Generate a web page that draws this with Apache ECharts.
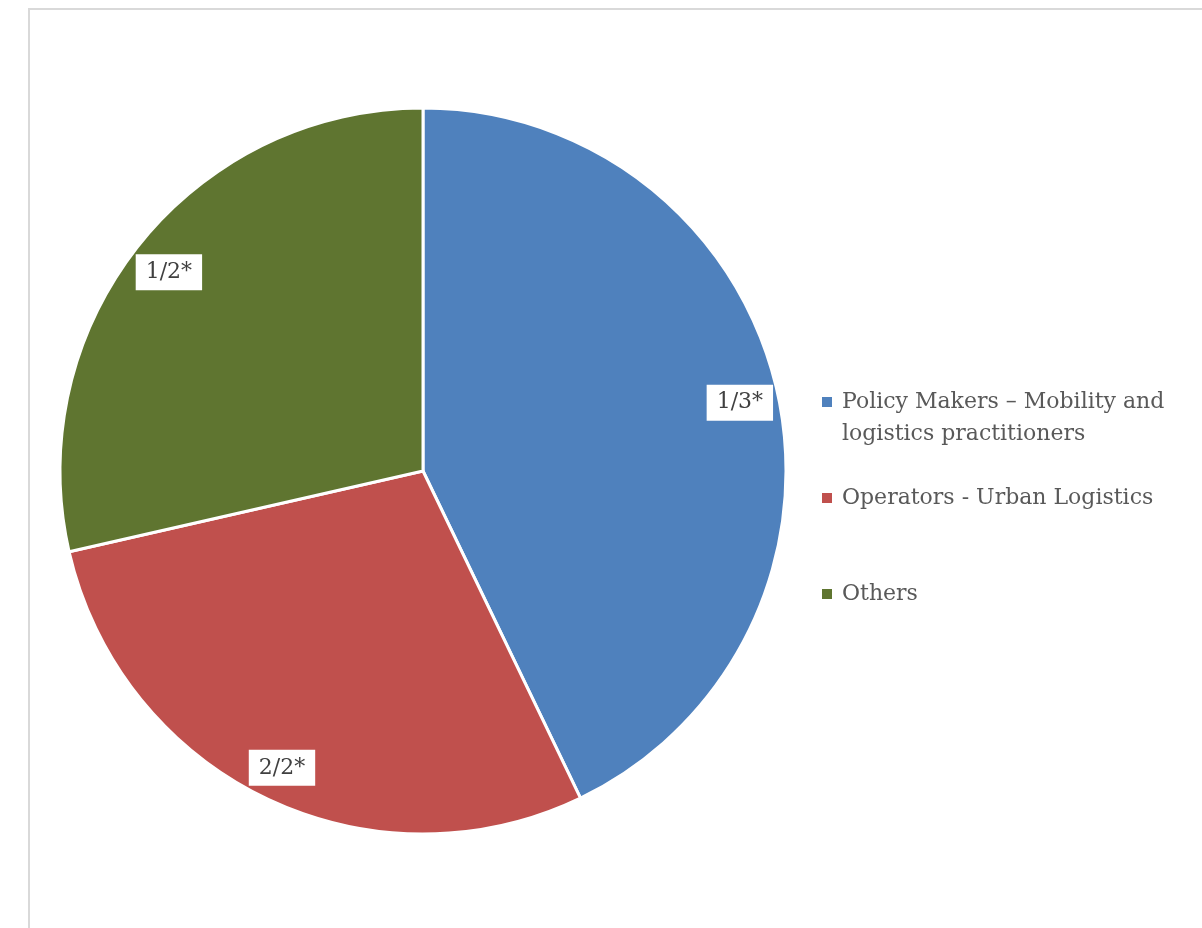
<!DOCTYPE html>
<html>
<head>
<meta charset="utf-8">
<script src="https://cdn.jsdelivr.net/npm/echarts@6/dist/echarts.min.js"></script>
<style>
  html, body { margin: 0; padding: 0; background: #fff; }
  #chart { width: 1202px; height: 928px; }
</style>
</head>
<body>
<div id="chart"></div>
<script>
// categories / values / slice labels
const categories = [
  'Policy Makers – Mobility and\nlogistics practitioners',
  'Operators - Urban Logistics',
  'Others'
]
const values = [3, 2, 2]
const sliceLabels = ['1/3*', '2/2*', '1/2*']
const colors = ['#4f81bd', '#c0504d', '#5f7530']

const FONT = 'DejaVu Serif'

let chart = echarts.init(document.getElementById('chart'))

const pieData = categories.map((name, i) => ({
  name: name,
  value: values[i],
  itemStyle: { color: colors[i] }
}))

const labelData = categories.map((name, i) => ({
  name: name,
  value: values[i],
  label: { formatter: sliceLabels[i] }
}))

// one legend per entry so the vertical spacing matches the picture
// (first one gets a blank leading line so the marker sits on its first line)
const legendTops = [354, 482, 578]
const legends = categories.map((name, i) => ({
  data: [name],
  orient: 'vertical',
  left: 822,
  top: legendTops[i],
  padding: 0,
  icon: 'rect',
  itemWidth: 10,
  itemHeight: 10,
  itemStyle: { borderWidth: 0 },
  selectedMode: false,
  formatter: n => (i === 0 ? '\n' + n : n),
  textStyle: {
    fontFamily: FONT,
    fontSize: 22,
    lineHeight: 32,
    color: '#595959',
    padding: [0, 0, 0, 5]
  }
}))

chart.setOption({
  animation: false,
  color: colors,
  legend: legends,
  graphic: [
    {
      type: 'rect',
      silent: true,
      shape: { x: 29, y: 9, width: 1400, height: 1200 },
      style: { fill: 'none', stroke: '#d9d9d9', lineWidth: 2 }
    }
  ],
  series: [
    {
      name: 'share',
      type: 'pie',
      center: [423, 471],
      radius: [0, 363],
      startAngle: 90,
      clockwise: true,
      silent: true,
      label: { show: false },
      labelLine: { show: false },
      itemStyle: { borderColor: '#fff', borderWidth: 3 },
      data: pieData
    },
    {
      // transparent ring only used to place the data labels near the rim
      name: 'labels',
      type: 'pie',
      center: [423, 475],
      radius: [300, 344],
      startAngle: 90,
      clockwise: true,
      silent: true,
      legendHoverLink: false,
      itemStyle: { color: 'rgba(0,0,0,0)', borderWidth: 0 },
      labelLine: { show: false },
      label: {
        show: true,
        position: 'inside',
        fontFamily: FONT,
        fontSize: 22,
        color: '#404040',
        backgroundColor: '#fff',
        padding: [7, 10]
      },
      data: labelData
    }
  ]
})
</script>
</body>
</html>
